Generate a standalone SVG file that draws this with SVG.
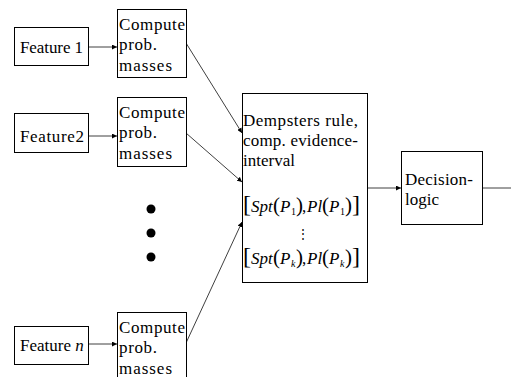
<svg xmlns="http://www.w3.org/2000/svg" width="511" height="377" viewBox="0 0 511 377">
<style>
.i{font-style:italic}
.br{font-size:24px}
.pa{font-size:21px}
.sb{font-size:10px}
.box{fill:#fff;stroke:#000;stroke-width:1}
.ln{stroke:#404040;stroke-width:1;fill:none}
</style>
<defs>
<marker id="ah" viewBox="0 0 6 6" refX="6" refY="3" markerWidth="5" markerHeight="5" markerUnits="userSpaceOnUse" orient="auto">
<path d="M0,0 L6,3 L0,6 Z" fill="#000"/>
</marker>
</defs>
<rect width="511" height="377" fill="#fff"/>
<g id="connectors">
<line class="ln" x1="88" y1="47" x2="117" y2="47" marker-end="url(#ah)"/>
<line class="ln" x1="88" y1="136" x2="117" y2="136" marker-end="url(#ah)"/>
<line class="ln" x1="88" y1="344" x2="117" y2="344" marker-end="url(#ah)"/>
<line class="ln" x1="186" y1="43" x2="242" y2="133" marker-end="url(#ah)"/>
<line class="ln" x1="186" y1="133" x2="242" y2="182" marker-end="url(#ah)"/>
<line class="ln" x1="186" y1="343" x2="242" y2="222" marker-end="url(#ah)"/>
<line class="ln" x1="367" y1="188" x2="401" y2="188" marker-end="url(#ah)"/>
<line class="ln" x1="482" y1="188" x2="511" y2="188"/>
</g>
<g font-family="Liberation Serif, Times New Roman, DejaVu Serif, serif" font-size="17" fill="#000">
<g id="feature1">
<rect class="box" x="14.5" y="27.5" width="74" height="38"/>
<text x="20" y="53" textLength="63" lengthAdjust="spacing">Feature 1</text>
</g>
<g id="feature2">
<rect class="box" x="14.5" y="113.5" width="74" height="39"/>
<text x="20" y="142" textLength="64" lengthAdjust="spacing">Feature2</text>
</g>
<g id="featuren">
<rect class="box" x="14.5" y="326.5" width="74" height="38"/>
<text x="20" y="351">Feature <tspan class="i">n</tspan></text>
</g>
<g id="compute1">
<rect class="box" x="117.5" y="9.5" width="69" height="68"/>
<text x="119" y="30" textLength="66" lengthAdjust="spacing">Compute</text>
<text x="119" y="50" textLength="38" lengthAdjust="spacing">prob.</text>
<text x="119" y="71" textLength="53" lengthAdjust="spacing">masses</text>
</g>
<g id="compute2">
<rect class="box" x="117.5" y="97.5" width="69" height="69"/>
<text x="119" y="118" textLength="66" lengthAdjust="spacing">Compute</text>
<text x="119" y="138" textLength="38" lengthAdjust="spacing">prob.</text>
<text x="119" y="159" textLength="53" lengthAdjust="spacing">masses</text>
</g>
<g id="computen">
<rect class="box" x="117.5" y="312.5" width="69" height="70"/>
<text x="119" y="333" textLength="66" lengthAdjust="spacing">Compute</text>
<text x="119" y="353" textLength="38" lengthAdjust="spacing">prob.</text>
<text x="119" y="374" textLength="53" lengthAdjust="spacing">masses</text>
</g>
<g id="dots">
<circle cx="151" cy="209" r="4.5" fill="#000"/>
<circle cx="151" cy="233" r="4.5" fill="#000"/>
<circle cx="151" cy="257" r="4.5" fill="#000"/>
</g>
<g id="dempster">
<rect class="box" x="242.5" y="93.5" width="125" height="189"/>
<text x="243" y="126" textLength="115" lengthAdjust="spacing">Dempsters rule,</text>
<text x="243" y="146" textLength="115" lengthAdjust="spacing">comp. evidence-</text>
<text x="243" y="166" textLength="52" lengthAdjust="spacing">interval</text>
<text y="212"><tspan class="br" x="243">[</tspan><tspan class="i" x="251">Spt</tspan><tspan class="pa" x="273">(</tspan><tspan class="i" x="280">P</tspan><tspan class="sb" x="291" dy="3">1</tspan><tspan class="pa" x="296" dy="-3">)</tspan><tspan x="302">,</tspan><tspan class="i" x="307">Pl</tspan><tspan class="pa" x="322">(</tspan><tspan class="i" x="329">P</tspan><tspan class="sb" x="340" dy="3">1</tspan><tspan class="pa" x="345" dy="-3">)</tspan><tspan class="br" x="352">]</tspan></text>
<text x="297" y="238" font-family="DejaVu Serif, serif" font-size="12">⋮</text>
<text y="264"><tspan class="br" x="243">[</tspan><tspan class="i" x="251">Spt</tspan><tspan class="pa" x="273">(</tspan><tspan class="i" x="280">P</tspan><tspan class="sb i" x="291" dy="3">k</tspan><tspan class="pa" x="296" dy="-3">)</tspan><tspan x="302">,</tspan><tspan class="i" x="307">Pl</tspan><tspan class="pa" x="322">(</tspan><tspan class="i" x="329">P</tspan><tspan class="sb i" x="340" dy="3">k</tspan><tspan class="pa" x="345" dy="-3">)</tspan><tspan class="br" x="352">]</tspan></text>
</g>
<g id="decision">
<rect class="box" x="401.5" y="151.5" width="81" height="73"/>
<text x="405" y="185" textLength="68" lengthAdjust="spacing">Decision-</text>
<text x="405" y="205" textLength="34" lengthAdjust="spacing">logic</text>
</g>
</g>
</svg>
